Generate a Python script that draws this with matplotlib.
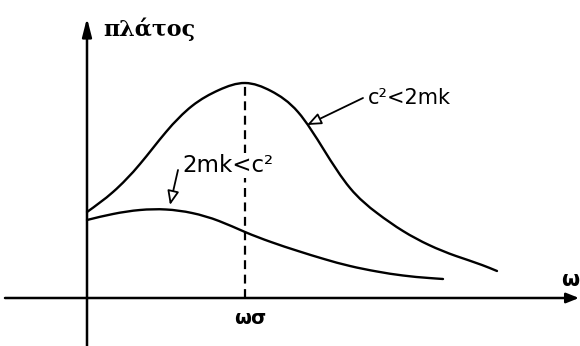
import matplotlib
matplotlib.use("Agg")
import matplotlib.pyplot as plt
import numpy as np
from matplotlib.path import Path
from matplotlib.patches import PathPatch

# amplitude vs driving frequency, two damping cases (arbitrary units)
omega_weak = [0, 26, 53, 79, 105, 132, 158, 184, 211, 237, 263, 290, 316,
              342, 369, 395, 410]
amp_weak = [86, 106, 134, 166, 192, 208, 215, 207, 186, 148, 110, 85, 67,
            53, 42, 33, 27]

omega_strong = [0, 26, 53, 79, 105, 132, 158, 184, 211, 237, 263, 290, 316,
                342, 356]
amp_strong = [78, 84, 88, 88.5, 85, 77, 66, 56, 47, 39, 32, 26.5, 22.5,
              20, 19]

omega_res = 158
amp_res = 215

label_weak = "c²<2mk"
label_strong = "2mk<c²"
label_y = "πλάτος"
label_x = "ω"
label_res = "ωσ"


def smooth_path(xs, ys):
    # natural cubic spline through the points, drawn as bezier segments
    x = np.asarray(xs, float)
    y = np.asarray(ys, float)
    n = len(x)
    h = np.diff(x)
    A = np.zeros((n, n))
    b = np.zeros(n)
    A[0, 0] = A[-1, -1] = 1
    for i in range(1, n - 1):
        A[i, i - 1] = h[i - 1]
        A[i, i] = 2 * (h[i - 1] + h[i])
        A[i, i + 1] = h[i]
        b[i] = 6 * ((y[i + 1] - y[i]) / h[i] - (y[i] - y[i - 1]) / h[i - 1])
    M = np.linalg.solve(A, b)

    verts = [(x[0], y[0])]
    codes = [Path.MOVETO]
    for i in range(n - 1):
        k = (y[i + 1] - y[i]) / h[i]
        s0 = k - h[i] * (2 * M[i] + M[i + 1]) / 6
        s1 = k + h[i] * (M[i] + 2 * M[i + 1]) / 6
        verts += [(x[i] + h[i] / 3, y[i] + s0 * h[i] / 3),
                  (x[i + 1] - h[i] / 3, y[i + 1] - s1 * h[i] / 3),
                  (x[i + 1], y[i + 1])]
        codes += [Path.CURVE4] * 3
    return Path(verts, codes)


def axis_arrow(ax, start, tip, head_len, head_w):
    ax.annotate("", xy=tip, xytext=start,
                arrowprops=dict(arrowstyle=f"-|>,head_length={head_len},head_width={head_w}",
                                lw=1.8, color="black", shrinkA=0, shrinkB=0,
                                mutation_scale=10))


def label_arrow(ax, start, tip):
    ax.annotate("", xy=tip, xytext=start,
                arrowprops=dict(arrowstyle="-|>,head_length=0.85,head_width=0.35",
                                lw=1.3, ec="black", fc="white", shrinkA=0, shrinkB=0,
                                mutation_scale=10))


fig = plt.figure(figsize=(5.8, 3.46), dpi=100)
ax = fig.add_axes([0, 0, 1, 1])
ax.set_xlim(-87, 493)
ax.set_ylim(-48, 298)
ax.axis("off")

# axes with arrow heads
axis_arrow(ax, (-82, 0), (492, 0), 0.75, 0.3)
axis_arrow(ax, (0, -48), (0, 280), 1.1, 0.28)

# curves
for xs, ys in [(omega_weak, amp_weak), (omega_strong, amp_strong)]:
    ax.add_patch(PathPatch(smooth_path(xs, ys), fc="none", ec="black", lw=1.7,
                           capstyle="round", joinstyle="round"))

# resonance line
ax.plot([omega_res, omega_res], [0, amp_res], color="black", lw=1.6,
        linestyle=(0, (4, 2.5)))

# labels
ax.text(16, 269, label_y, fontsize=16, fontweight="bold", family="DejaVu Serif",
        ha="left", va="center")
ax.text(483, 18, label_x, fontsize=15, fontweight="bold",
        ha="center", va="center")
ax.text(163, -20, label_res, fontsize=14, fontweight="bold",
        ha="center", va="center")

ax.text(281, 194, label_weak, fontsize=15, ha="left", va="baseline")
label_arrow(ax, (276, 200), (220, 173))

ax.text(95, 126, label_strong, fontsize=16.5, ha="left", va="baseline",
        bbox=dict(fc="white", ec="none", pad=0.5))
label_arrow(ax, (91, 128), (83, 93))

fig.savefig("out.png", dpi=100)
